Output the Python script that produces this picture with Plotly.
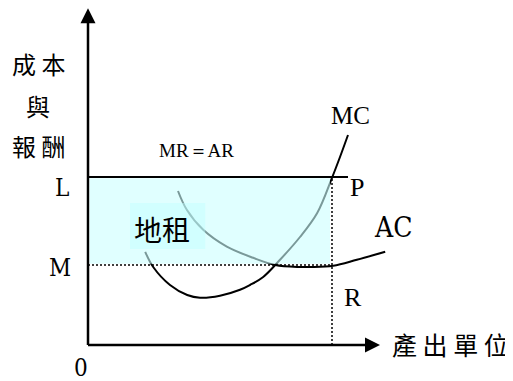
import plotly.graph_objects as go

# chart units: quantity on x, cost/revenue on y
L_LEVEL = 42      # price line MR = AR
M_LEVEL = 20      # average cost at the chosen output
Q_STAR = 61       # output where MC = MR
X_END = 73        # end of quantity axis
Y_END = 84.2      # end of cost axis

mc_x = [14.3, 16.3, 20.5, 24.8, 28, 33, 38, 40.5, 43.8, 48, 53, 57.3, 61, 63, 65]
mc_y = [23.3, 19.5, 15, 12.5, 11.8, 12.3, 13.8, 15, 17, 21.3, 27, 33, 41.8, 47, 52.5]

ac_x = [22.5, 24.7, 28.8, 34.7, 41.3, 46.8, 53, 55.5, 61.3, 67.2, 74.3]
ac_y = [38.5, 33.8, 28.8, 24.6, 21.8, 20, 19.5, 19.5, 19.8, 21.3, 23.3]

fig = go.Figure()

# cost curves
fig.add_trace(go.Scatter(x=mc_x, y=mc_y, mode="lines", line=dict(color="black", width=2, shape="spline")))
fig.add_trace(go.Scatter(x=ac_x, y=ac_y, mode="lines", line=dict(color="black", width=2, shape="spline")))

# axes with arrow heads
fig.add_trace(go.Scatter(x=[0, 0], y=[0, Y_END - 2], mode="lines", line=dict(color="black", width=2.5)))
fig.add_trace(go.Scatter(x=[0, X_END - 2], y=[0, 0], mode="lines", line=dict(color="black", width=2.5)))
fig.add_trace(go.Scatter(x=[0], y=[Y_END], mode="markers", cliponaxis=False,
                         marker=dict(symbol="arrow-up", size=15, color="black", line=dict(width=0))))
fig.add_trace(go.Scatter(x=[X_END], y=[0], mode="markers", cliponaxis=False,
                         marker=dict(symbol="arrow-right", size=15, color="black", line=dict(width=0))))

# price line and guide lines
fig.add_trace(go.Scatter(x=[0, 65], y=[L_LEVEL, L_LEVEL], mode="lines", line=dict(color="black", width=2)))
fig.add_trace(go.Scatter(x=[0, Q_STAR], y=[M_LEVEL, M_LEVEL], mode="lines",
                         line=dict(color="black", width=1.5, dash="2px,2px")))
fig.add_trace(go.Scatter(x=[Q_STAR, Q_STAR], y=[0, L_LEVEL], mode="lines",
                         line=dict(color="black", width=1.5, dash="2px,2px")))

# rent area, laid over the curves
fig.add_shape(type="rect", x0=0.4, x1=Q_STAR - 0.5, y0=M_LEVEL + 0.3, y1=L_LEVEL - 0.3,
              fillcolor="rgba(204,255,255,0.6)", line=dict(width=0), layer="above")
fig.add_shape(type="rect", x0=10.5, x1=29.3, y0=24, y1=35.5,
              fillcolor="rgba(190,255,255,0.45)", line=dict(width=0), layer="above")

cjk = "Noto Sans CJK TC"
serif = "Liberation Serif"
narrow = "DejaVu Serif Condensed, Liberation Serif"
labels = [
    ("成 本", -12.5, 70.5, cjk, 24),
    ("與", -12.5, 60, cjk, 24),
    ("報 酬", -12.5, 50, cjk, 24),
    ("MR＝AR", 27, 48.75, serif, 19),
    ("MC", 65.5, 57.3, serif, 25),
    ("L", -6.5, 39.3, narrow, 24),
    ("P", 67.3, 39.3, serif, 26),
    ("AC", 76.3, 29.5, narrow, 28),
    ("地租", 18.5, 29, cjk, 28),
    ("M", -7, 19.3, narrow, 24),
    ("R", 66.2, 12, serif, 26),
    ("0", -1.8, -5.8, narrow, 24),
    ("產 出 單 位", 90.5, 0.3, cjk, 25),
]
for text, x, y, fam, size in labels:
    fig.add_annotation(x=x, y=y, text=text, showarrow=False,
                       font=dict(family=fam, size=size, color="black"))

# the page body keeps its 8px margin, so the figure is 8px smaller each way
fig.update_layout(
    width=505,
    height=373,
    margin=dict(l=0, r=0, t=0, b=0),
    showlegend=False,
    paper_bgcolor="white",
    plot_bgcolor="white",
    xaxis=dict(range=[-20, 106.25], visible=False),
    yaxis=dict(range=[-9, 84.25], visible=False),
)

fig.write_html("out.html")
